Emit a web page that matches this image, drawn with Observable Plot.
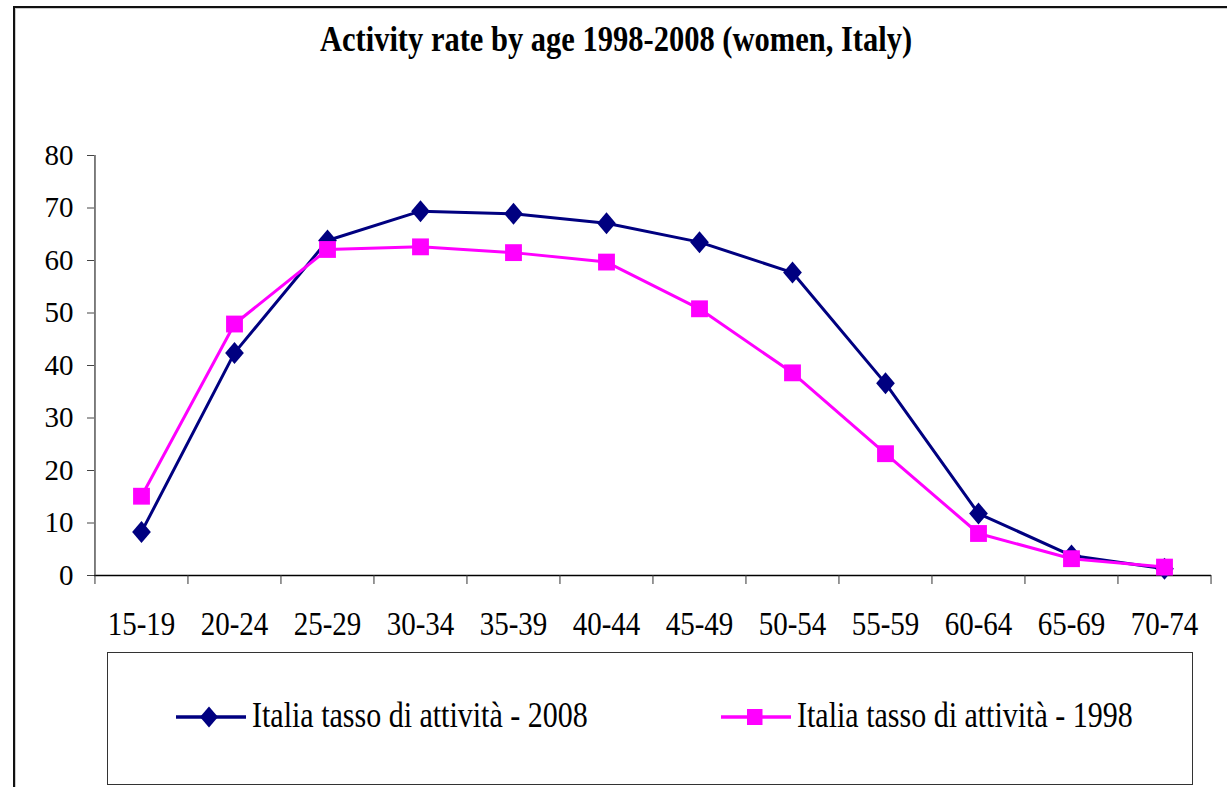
<!DOCTYPE html>
<html>
<head>
<meta charset="utf-8">
<script src="https://cdn.jsdelivr.net/npm/d3@7"></script>
<script src="https://cdn.jsdelivr.net/npm/@observablehq/plot@0.6"></script>
<style>
  body { margin: 0; background: #fff; }
  #wrap { position: relative; width: 1227px; height: 787px; overflow: hidden; background: #fff;
          font-family: "Liberation Serif", "Times New Roman", serif; color: #000; }
  #frame { position: absolute; left: 13px; top: 6px; width: 1300px; height: 900px;
           border-left: 2px solid #111; border-top: 2px solid #111;
           box-shadow: inset 1px 1px 0 #ccc; }
  #title { position: absolute; left: 0; top: 25.5px; width: 1232px; text-align: center;
           font-size: 30.5px; line-height: 30.5px; font-weight: bold; white-space: nowrap;
           transform: scaleY(1.18); transform-origin: 50% 25.5px; }
  #chart { position: absolute; left: 0; top: 0; }
  #chart svg text { font-family: "Liberation Serif", "Times New Roman", serif; }
  #legend { position: absolute; left: 107px; top: 652px; width: 1084px; height: 131px;
            border: 1.5px solid #333; }
  .sw { position: absolute; top: 705px; }
  .lt { position: absolute; top: 701.7px; font-size: 30px; line-height: 30px; white-space: nowrap;
        transform: scaleY(1.17); transform-origin: 0 25px; }
</style>
</head>
<body>
<div id="wrap">
  <div id="frame"></div>
  <div id="title">Activity rate by age 1998-2008 (women, Italy)</div>
  <div id="chart"></div>
  <div id="legend"></div>
</div>
<script>
// ---- data ----
const ages = ["15-19", "20-24", "25-29", "30-34", "35-39", "40-44", "45-49", "50-54", "55-59", "60-64", "65-69", "70-74"];
const rate2008 = [8.3, 42.4, 63.8, 69.4, 68.9, 67.1, 63.5, 57.7, 36.6, 11.8, 3.8, 1.3];
const rate1998 = [15.1, 47.9, 62.1, 62.6, 61.5, 59.7, 50.8, 38.6, 23.2, 8.0, 3.2, 1.6];
const seriesNames = ["Italia tasso di attività - 2008", "Italia tasso di attività - 1998"];
const seriesColors = ["#000080", "#FF00FF"];
const yTicks = [0, 10, 20, 30, 40, 50, 60, 70, 80];

const data2008 = ages.map((a, i) => ({age: a, value: rate2008[i]}));
const data1998 = ages.map((a, i) => ({age: a, value: rate1998[i]}));

const W = 1227, H = 650, mL = 94, mR = 16, mT = 155, mB = 75;
const half = (W - mL - mR) / ages.length / 2;
const serif = '"Liberation Serif", "Times New Roman", serif';

const diamond = {
  draw(ctx, size) {
    const r = Math.sqrt(size / Math.PI), w = r * 0.85;
    ctx.moveTo(0, -r); ctx.lineTo(w, 0); ctx.lineTo(0, r); ctx.lineTo(-w, 0); ctx.closePath();
  }
};

const plot = Plot.plot({
  width: W, height: H,
  marginLeft: mL, marginRight: mR, marginTop: mT, marginBottom: mB,
  style: {fontFamily: serif, fontSize: "29px", color: "#000", background: "transparent", overflow: "visible"},
  x: {type: "point", domain: ages, padding: 0.5},
  y: {domain: [0, 80], nice: false},
  marks: [
    Plot.ruleY([0], {stroke: "#000", strokeWidth: 1.5}),
    Plot.ruleX([ages[0]], {y1: 0, y2: 80, dx: -half, stroke: "#555", strokeWidth: 1.5}),
    Plot.axisY({ticks: yTicks, tickSize: 7, tickPadding: 14, label: null, fontSize: 29, fontFamily: serif, fontVariant: "normal", stroke: "#444"}),
    Plot.axisX({ticks: ages, tickSize: 9, dx: -half, tickFormat: () => "", label: null, stroke: "#333"}),
    Plot.axisX({ticks: [ages[ages.length - 1]], tickSize: 9, dx: half, tickFormat: () => "", label: null, stroke: "#333"}),
    Plot.axisX({ticks: ages, tickSize: 0, tickPadding: 36, label: null, fontSize: 29, fontFamily: serif}),
    Plot.line(data2008, {x: "age", y: "value", stroke: seriesColors[0], strokeWidth: 3}),
    Plot.dot(data2008, {x: "age", y: "value", symbol: diamond, r: 11, fill: seriesColors[0], stroke: "none"}),
    Plot.line(data1998, {x: "age", y: "value", stroke: seriesColors[1], strokeWidth: 3}),
    Plot.dot(data1998, {x: "age", y: "value", symbol: "square", r: 9.5, fill: seriesColors[1], stroke: "none"})
  ]
});
document.getElementById("chart").appendChild(plot);

// stretch x tick labels vertically (reference glyphs are taller than wide)
plot.querySelectorAll('g[aria-label="x-axis tick label"] text').forEach(t => {
  const tr = t.getAttribute("transform");
  if (tr) t.setAttribute("transform", tr + " scale(1,1.13)");
});

// ---- legend ----
const wrap = document.getElementById("wrap");
const ns = "http://www.w3.org/2000/svg";
const legendItems = [
  {swLeft: 174, textLeft: 252, color: seriesColors[0], name: seriesNames[0], kind: "diamond"},
  {swLeft: 719, textLeft: 797, color: seriesColors[1], name: seriesNames[1], kind: "square"}
];
legendItems.forEach(it => {
  const s = document.createElementNS(ns, "svg");
  s.setAttribute("class", "sw");
  s.setAttribute("width", 74); s.setAttribute("height", 24);
  s.style.left = it.swLeft + "px";
  const ln = document.createElementNS(ns, "line");
  ln.setAttribute("x1", 2); ln.setAttribute("x2", 72); ln.setAttribute("y1", 12); ln.setAttribute("y2", 12);
  ln.setAttribute("stroke", it.color); ln.setAttribute("stroke-width", 3.5);
  s.appendChild(ln);
  const p = document.createElementNS(ns, "path");
  if (it.kind === "diamond") p.setAttribute("d", "M35,1.5 L44,12 L35,22.5 L26,12 Z");
  else p.setAttribute("d", "M28,4 h15.5 v16 h-15.5 Z");
  p.setAttribute("fill", it.color);
  s.appendChild(p);
  wrap.appendChild(s);
  const d = document.createElement("div");
  d.className = "lt";
  d.style.left = it.textLeft + "px";
  d.textContent = it.name;
  wrap.appendChild(d);
});
</script>
</body>
</html>
